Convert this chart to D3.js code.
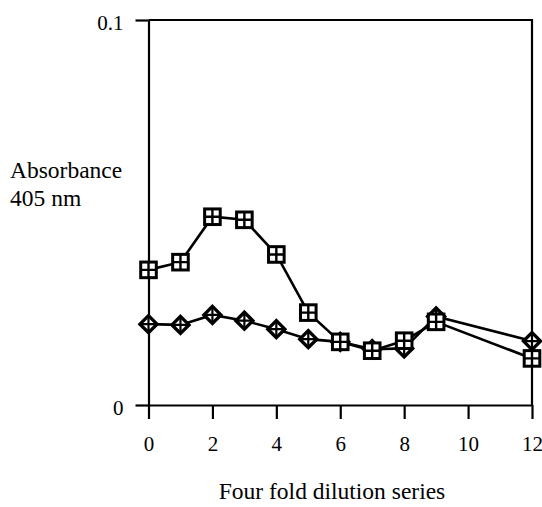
<!DOCTYPE html>
<html><head><meta charset="utf-8">
<script src="https://cdn.jsdelivr.net/npm/d3@7"></script>
<style>html,body{margin:0;padding:0;background:#fff;}svg{display:block;} svg text{font-family:"Liberation Serif","Tinos","Times New Roman","DejaVu Serif",serif;}</style>
</head><body>
<script>
const dilution = [0,1,2,3,4,5,6,7,8,9,12];
const squareSeries = [0.0351,0.0371,0.0489,0.0481,0.0391,0.0240,0.0164,0.0141,0.0167,0.0216,0.0121];
const diamondSeries = [0.0210,0.0208,0.0234,0.0219,0.0197,0.0171,0.0164,0.0145,0.0147,0.0230,0.0166];
const xTicks = [0,2,4,6,8,10,12];
const yTicks = [0,0.1];
const yTickLabels = ["0","0.1"];

const W=542,H=507;
const svg=d3.select("body").append("svg").attr("width",W).attr("height",H);
const x=d3.scaleLinear().domain([0,12]).range([148.5,532]);
const y=d3.scaleLinear().domain([0,0.1]).range([405,20]);

// frame (top and right)
svg.append("path").attr("d",`M${x(0)},${y(0.1)}H${x(12)}V${y(0)}`).attr("fill","none").attr("stroke","#000").attr("stroke-width",2.2);

const xa=svg.append("g").attr("transform",`translate(0,${y(0)})`)
  .call(d3.axisBottom(x).tickValues(xTicks).tickSize(14).tickSizeOuter(0).tickPadding(17));
const ya=svg.append("g").attr("transform",`translate(${x(0)},0)`)
  .call(d3.axisLeft(y).tickValues(yTicks).tickFormat((d,i)=>yTickLabels[i]).tickSize(13).tickSizeOuter(0).tickPadding(12));
[xa,ya].forEach(a=>{
  a.attr("font-family",null);
  a.selectAll("path,line").attr("stroke","#000").attr("stroke-width",2.2);
  a.selectAll("text").attr("font-size",21).attr("fill","#000");
});
ya.selectAll("text").attr("dy","0.45em");

const line=d3.line().x((d,i)=>x(dilution[i])).y(d=>y(d));
svg.append("path").datum(diamondSeries).attr("d",line).attr("fill","none").attr("stroke","#000").attr("stroke-width",2.6);
svg.append("path").datum(squareSeries).attr("d",line).attr("fill","none").attr("stroke","#000").attr("stroke-width",2.6);

// diamonds
const dg=svg.append("g").selectAll("g").data(diamondSeries).join("g")
  .attr("transform",(d,i)=>`translate(${x(dilution[i])},${y(d)})`);
const r=8.5;
dg.append("path").attr("d",`M0,${-r}L${r},0L0,${r}L${-r},0Z`).attr("fill","#fff").attr("stroke","#000").attr("stroke-width",3.4);
dg.append("path").attr("d",`M0,${-r}V${r}M${-r},0H${r}`).attr("stroke","#000").attr("stroke-width",2.2);

// squares
const sg=svg.append("g").selectAll("g").data(squareSeries).join("g")
  .attr("transform",(d,i)=>`translate(${x(dilution[i])},${y(d)})`);
const s=7.8;
sg.append("rect").attr("x",-s).attr("y",-s).attr("width",2*s).attr("height",2*s).attr("fill","#fff").attr("stroke","#000").attr("stroke-width",3);
sg.append("path").attr("d",`M0,${-s}V${s}M${-s},0H${s}`).attr("stroke","#000").attr("stroke-width",2.4);

svg.append("text").attr("x",10).attr("y",178).attr("font-size",23.5).text("Absorbance");
svg.append("text").attr("x",10).attr("y",206).attr("font-size",23.5).text("405 nm");
svg.append("text").attr("x",332).attr("y",499).attr("text-anchor","middle").attr("font-size",23.5).text("Four fold dilution series");
</script>
</body></html>
